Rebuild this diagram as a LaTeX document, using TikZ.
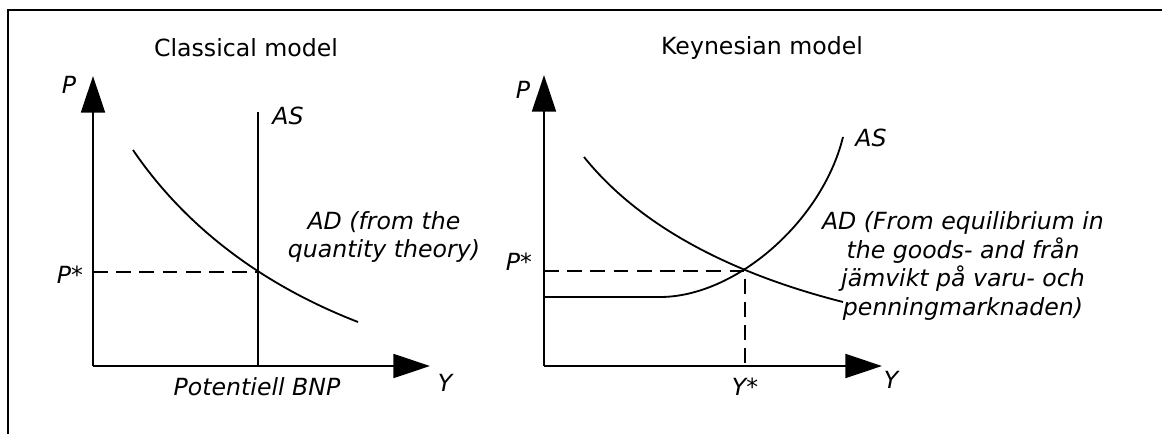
\documentclass[tikz,border=0pt]{standalone}
\usepackage{fontspec}
\setmainfont{DejaVu Sans}
\usetikzlibrary{arrows.meta}

\begin{document}
\begin{tikzpicture}[x=0.025cm,y=-0.025cm,
  axis/.style={line width=1.4pt,-{Triangle[length=26pt,width=17pt]}},
  curve/.style={line width=1.3pt},
  guide/.style={line width=1.3pt,dash pattern=on 10.5pt off 6pt},
  lbl/.style={font=\fontsize{16.8}{20.5}\selectfont\itshape,inner sep=0pt,align=center},
  title/.style={font=\fontsize{16.8}{20.5}\selectfont,inner sep=0pt}]
  \useasboundingbox (0,0) rectangle (1162,434);
  \draw[line width=1.4pt] (8,434) -- (8,10) -- (1162,10);

  % classical model
  \coordinate (O1) at (93,366);
  \coordinate (E1) at (258,272);
  \node[title] (t1) at (246,48) {Classical model};
  \draw[axis] (O1) -- (93,76);
  \draw[axis] (O1) -- (430,366);
  \draw[curve] (258,112) -- (258,366);
  \draw[curve] (133,150) .. controls (184,225) and (260,284) .. (358,322);
  \draw[guide] (O1 |- E1) -- (E1);
  \node[lbl] (p1) at (69,85) {P};
  \node[lbl] (ps1) at (70,275) {P*};
  \node[lbl] (as1) at (288,116) {AS};
  \node[lbl] (ad1) at (384,237) {AD (from the\\quantity theory)};
  \node[lbl] (bnp) at (257,387) {Potentiell BNP};
  \node[lbl] (y1) at (445,383) {Y};

  % keynesian model
  \coordinate (O2) at (544,366);
  \coordinate (E2) at (745,271);
  \node[title] (t2) at (762,48) {Keynesian model};
  \draw[axis] (O2) -- (544,75);
  \draw[axis] (O2) -- (882,366);
  \draw[curve] (544,297) -- (660,297) .. controls (735,297) and (822,222) .. (843,137);
  \draw[curve] (584,157) .. controls (637,223) and (725,272) .. (843,302);
  \draw[guide] (O2 |- E2) -- (E2) -- (E2 |- O2);
  \node[lbl] (p2) at (523,90) {P};
  \node[lbl] (ps2) at (519,262) {P*};
  \node[lbl] (ys2) at (745,387) {Y*};
  \node[lbl] (as2) at (871,138) {AS};
  \node[lbl] (ad2) at (963,266) {AD (From equilibrium in\\the goods- and från\\jämvikt på varu- och\\penningmarknaden)};
  \node[lbl] (y2) at (891,380) {Y};
\end{tikzpicture}
\end{document}
